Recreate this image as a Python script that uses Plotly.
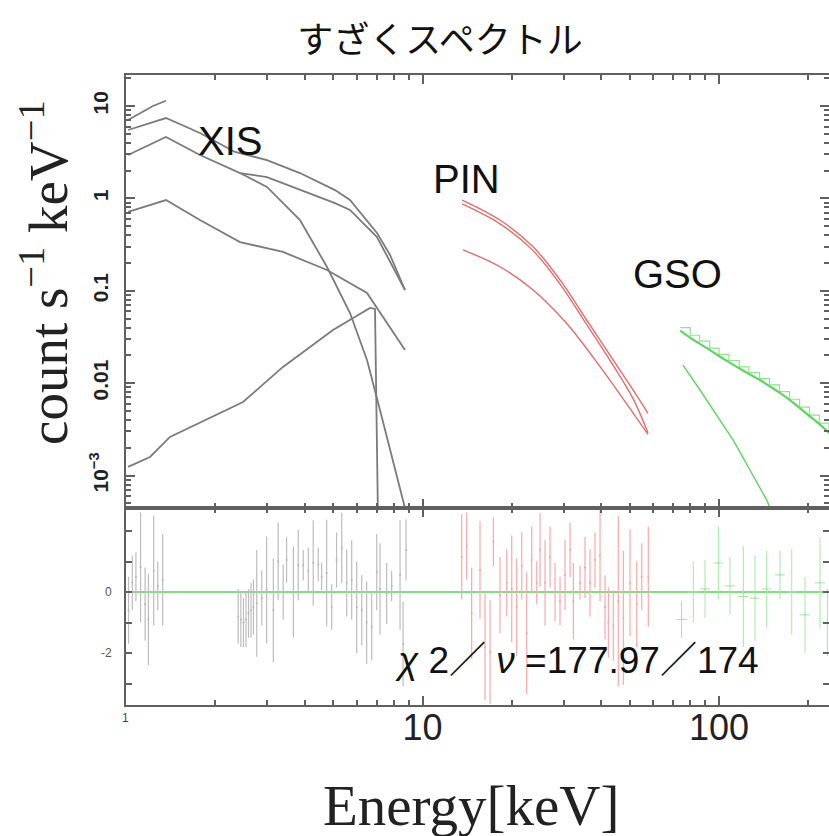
import math
import plotly.graph_objects as go

# ---------------- data ----------------
# Top panel: XIS model/data curves  (energy keV, counts s^-1 keV^-1)
xis_a_e = [1.016, 1.115, 1.233, 1.364]
xis_a_v = [7.05, 8.40, 10.0, 11.4]
xis_b_e = [1.016, 1.364, 1.776, 2.331, 2.988, 3.862, 5.069, 5.695, 7.023, 7.770, 8.730]
xis_b_v = [5.50, 7.41, 5.10, 3.18, 2.60, 1.88, 1.23, 0.96, 0.423, 0.244, 0.102]
xis_c_e = [1.016, 1.364, 1.776, 2.424, 2.988, 3.862, 5.069, 5.695, 7.023, 8.730]
xis_c_v = [2.95, 4.62, 2.95, 1.88, 1.70, 1.23, 0.89, 0.75, 0.382, 0.102]
xis_d_e = [2.424, 2.988, 3.862, 4.764, 5.695, 6.499, 7.189, 7.952, 8.730, 9.3]
xis_d_v = [1.88, 1.33, 0.583, 0.181, 0.0575, 0.0178, 0.00513, 0.00148, 0.000457, 0.0002]
xis_e_e = [1.016, 1.364, 1.776, 2.424, 3.384, 4.764, 6.499, 8.730]
xis_e_v = [0.713, 0.96, 0.583, 0.337, 0.263, 0.168, 0.0947, 0.0229]
xis_f_e = [1.016, 1.205, 1.407, 2.481, 3.384, 4.991, 6.652, 6.915, 7.189]
xis_f_v = [0.00124, 0.00159, 0.00262, 0.00626, 0.0150, 0.0377, 0.0652, 0.0636, 0.00001]

# PIN curves
pin_e = [13.6, 18.25, 23.6, 29.1, 35.8, 44.0, 51.3, 57.6]
pin_a_v = [0.96, 0.583, 0.300, 0.131, 0.0483, 0.0178, 0.00844, 0.00472]
pin_b_v = [0.87, 0.53, 0.272, 0.118, 0.0430, 0.0155, 0.0068, 0.0029]
pin_c_e = [13.7, 18.25, 23.6, 30.6, 39.7, 51.4, 57.6]
pin_c_v = [0.277, 0.182, 0.102, 0.0445, 0.0151, 0.00472, 0.0028]

# GSO curves
gso_e = [74, 80, 86, 93, 100, 108, 117, 126, 137, 148, 160, 173, 187, 202, 218, 235]
gso_data_v = [0.040, 0.033, 0.0285, 0.0240, 0.0205, 0.0176, 0.0150, 0.0130, 0.0112,
              0.0096, 0.0081, 0.0067, 0.0055, 0.0045, 0.0037, 0.0030]
gso_model_v = [0.037, 0.031, 0.0268, 0.0229, 0.0197, 0.0169, 0.0145, 0.0126, 0.0109,
               0.0093, 0.0079, 0.0066, 0.0054, 0.0044, 0.0036, 0.0029]
gso_bg_e = [75.6, 86.3, 111.5, 144.8, 160]
gso_bg_v = [0.0157, 0.00844, 0.00243, 0.000545, 0.00025]

# Bottom panel residuals
xis_r_e = [1.02, 1.05, 1.08, 1.12, 1.16, 1.19, 1.24, 1.28, 1.33,
           2.39, 2.44, 2.49, 2.54, 2.59, 2.64, 2.69, 2.76, 2.87, 2.98, 3.14, 3.26,
           3.39, 3.48, 3.67, 3.81, 3.96, 4.12, 4.28, 4.45, 4.57, 4.75, 4.94, 5.13,
           5.34, 5.55, 5.77, 6.00, 6.24, 6.48, 6.74, 7.01, 7.19, 7.57, 7.87, 8.40,
           8.60, 8.80]
xis_r_v = [-0.6, 0.3, 0.5, 0.8, -0.4, -0.9, 0.7, 0.2, 0.4,
           -0.8, -0.9, -1.0, -0.9, -0.7, -0.6, -0.5, -0.37, -0.2, 0.07, -0.6, 1.0,
           0.0, 1.05, 0.0, 0.88, 0.88, 0.7, 0.95, 0.9, 0.5, 0.62, -0.5, 1.05,
           1.44, 0.3, 0.4, -0.5, -0.6, -1.0, -1.15, 0.65, 0.1, -0.05, 0.2, 0.56,
           -1.7, 1.38]
xis_r_err = [1.1, 0.9, 0.8, 1.8, 1.2, 1.5, 1.8, 0.8, 1.5,
             0.9, 0.9, 0.8, 0.9, 0.8, 0.9, 0.9, 1.75, 0.9, 1.75, 1.7, 1.27,
             0.9, 0.75, 1.5, 1.15, 0.5, 0.75, 1.4, 0.55, 0.45, 1.75, 0.75, 0.9,
             1.15, 1.1, 1.3, 1.5, 1.15, 1.35, 1.1, 1.25, 1.5, 1.0, 0.5, 1.8,
             1.4, 1.0]

pin_r_e = [13.56, 14.09, 14.65, 15.63, 16.25, 16.89, 17.34, 18.25, 19.23, 20.0,
           20.78, 21.61, 22.46, 23.35, 24.28, 24.91, 25.90, 26.92, 27.99, 29.09,
           30.25, 31.45, 32.27, 33.98, 35.33, 36.72, 38.18, 39.70, 41.27, 42.35,
           44.01, 45.75, 47.56, 50.10, 52.77, 54.86, 57.75]
pin_r_v = [1.15, 1.5, -0.7, 0.72, -1.8, -1.97, 1.64, -0.1, 0.3, 0.1,
           -0.5, 0.85, -1.35, 1.05, 0.3, 1.38, 0.3, 1.15, 0.0, -0.3,
           0.56, 1.38, -0.3, 0.3, 0.8, 0.3, 1.05, 1.2, -0.5, -1.0,
           -1.1, -0.3, -0.85, 0.3, -0.4, 0.5, 0.5]
pin_r_err = [1.4, 1.1, 1.5, 1.6, 1.75, 1.7, 0.8, 1.25, 1.1, 1.75,
             1.6, 1.1, 2.0, 1.1, 0.7, 1.2, 1.4, 1.0, 0.95, 0.8,
             1.15, 0.9, 1.25, 0.55, 1.0, 1.1, 0.9, 1.5, 1.05, 1.15,
             1.15, 2.8, 2.2, 1.75, 1.4, 1.1, 1.65]

gso_r_e = [74.8, 81.9, 89.7, 99.5, 108.9, 120.8, 132.3, 144.8, 160.6, 175.9, 195.0, 219.1, 232.0]
gso_r_v = [-0.9, 0.0, 0.1, 0.95, 0.2, -0.15, -0.2, 0.1, 0.56, 0.0, -0.75, 0.3, -1.0]
gso_r_err = [0.6, 1.0, 0.95, 1.2, 0.95, 1.65, 1.4, 1.25, 0.8, 1.4, 1.25, 1.5, 1.1]

# Axis ticks
x_ticks = [1, 10, 100]
x_ticktext = ["1", "10", "100"]
y_top_ticks = [1e-3, 0.01, 0.1, 1, 10]
y_top_ticktext = ["10<sup>−3</sup>", "0.01", "0.1", "1", "10"]
y_bot_ticks = [-2, 0]
y_bot_ticktext = ["-2", "0"]
y_bot_minor = [-3, -1, 1, 2]

# ---------------- figure ----------------
W, H = 829, 836
def px(x):
    return x / W
def py(y):
    return 1 - y / H

XIS_COL = "#7b7b7b"
PIN_COL = "#e86a6a"
GSO_COL = "#5cd65c"

fig = go.Figure()

for e, v in [(xis_a_e, xis_a_v), (xis_b_e, xis_b_v), (xis_c_e, xis_c_v),
             (xis_d_e, xis_d_v), (xis_e_e, xis_e_v), (xis_f_e, xis_f_v)]:
    fig.add_trace(go.Scatter(x=e, y=v, mode="lines", line=dict(color=XIS_COL, width=1.8),
                             xaxis="x", yaxis="y", showlegend=False))

for e, v in [(pin_e, pin_a_v), (pin_e, pin_b_v), (pin_c_e, pin_c_v)]:
    fig.add_trace(go.Scatter(x=e, y=v, mode="lines", line=dict(color=PIN_COL, width=1.4),
                             line_shape="spline", xaxis="x", yaxis="y", showlegend=False))

fig.add_trace(go.Scatter(x=gso_e, y=gso_data_v, mode="lines", line=dict(color="#8fe48f", width=1.2),
                         line_shape="hv", xaxis="x", yaxis="y", showlegend=False))
fig.add_trace(go.Scatter(x=gso_e, y=gso_model_v, mode="lines", line=dict(color=GSO_COL, width=2.2),
                         line_shape="spline", xaxis="x", yaxis="y", showlegend=False))
fig.add_trace(go.Scatter(x=gso_bg_e, y=gso_bg_v, mode="lines", line=dict(color=GSO_COL, width=1.4),
                         xaxis="x", yaxis="y", showlegend=False))

# residuals
fig.add_trace(go.Scatter(x=[1, 240], y=[0, 0], mode="lines", line=dict(color="#7fe07f", width=2),
                         xaxis="x2", yaxis="y2", showlegend=False))
fig.add_trace(go.Scatter(x=xis_r_e, y=xis_r_v, mode="markers",
                         marker=dict(color="#b5b5b5", size=2),
                         error_y=dict(type="data", array=xis_r_err, color="#bdbdbd", thickness=1.2, width=0),
                         xaxis="x2", yaxis="y2", showlegend=False))
fig.add_trace(go.Scatter(x=pin_r_e, y=pin_r_v, mode="markers",
                         marker=dict(color="#f5a3a3", size=2),
                         error_y=dict(type="data", array=pin_r_err, color="#f6aaaa", thickness=1.2, width=0),
                         xaxis="x2", yaxis="y2", showlegend=False))
fig.add_trace(go.Scatter(x=gso_r_e, y=gso_r_v, mode="markers",
                         marker=dict(color="#9be59b", size=2),
                         error_y=dict(type="data", array=gso_r_err, color="#a3e8a3", thickness=1, width=0),
                         error_x=dict(type="percent", value=4, color="#a3e8a3", thickness=1, width=0),
                         xaxis="x2", yaxis="y2", showlegend=False))

def minor_log(lo, hi):
    out = []
    for k in range(lo, hi + 1):
        for m in range(2, 10):
            out.append(m * 10 ** k)
    return out

LINE = "#606060"
x_range = [0, 2.371]
xdom = [126 / W, 1.0]
top_dom = [py(508), py(75)]
bot_dom = [py(705), py(508)]

common_x = dict(type="log", range=x_range, domain=xdom, showgrid=False, zeroline=False,
                showline=True, linecolor=LINE, linewidth=2, mirror="allticks",
                ticks="inside", ticklen=9, tickwidth=1.5, tickcolor=LINE,
                minor=dict(tickvals=minor_log(0, 2), ticklen=5, tickcolor=LINE, ticks="inside"),
                automargin=False)

fig.update_layout(
    width=W, height=H, margin=dict(l=0, r=0, t=0, b=0),
    paper_bgcolor="white", plot_bgcolor="white", showlegend=False,
    xaxis=dict(common_x, anchor="y", showticklabels=False, tickvals=x_ticks),
    yaxis=dict(type="log", range=[-3.351, 1.3355], domain=top_dom, anchor="x",
               showgrid=False, zeroline=False, showline=True, linecolor=LINE, linewidth=2,
               mirror="allticks", ticks="inside", ticklen=9, tickwidth=1.5, tickcolor=LINE,
               tickvals=y_top_ticks, ticktext=y_top_ticktext, tickangle=-90,
               tickfont=dict(family="Liberation Sans, Arial", size=21, color="#222", weight="bold"),
               ticklabelstandoff=8,
               minor=dict(tickvals=minor_log(-4, 1), ticklen=5, tickcolor=LINE, ticks="inside"),
               automargin=False),
    xaxis2=dict(common_x, anchor="y2", tickvals=x_ticks[1:], ticktext=x_ticktext[1:],
                tickfont=dict(family="Liberation Sans, Arial", size=36, color="#222"),
                ticklabelstandoff=-10),
    yaxis2=dict(type="linear", range=[-3.705, 2.754], domain=bot_dom, anchor="x2",
                showgrid=False, zeroline=False, showline=True, linecolor=LINE, linewidth=2,
                mirror="allticks", ticks="inside", ticklen=6, tickwidth=1.5, tickcolor=LINE,
                tickvals=y_bot_ticks, ticktext=y_bot_ticktext,
                minor=dict(tickvals=y_bot_minor, ticklen=6, tickcolor=LINE, ticks="inside"),
                tickfont=dict(family="Liberation Sans, Arial", size=12, color="#555"),
                ticklabelstandoff=10, automargin=False),
    title=dict(text="すざくスペクトル", x=px(440), xref="container", xanchor="center",
               y=py(40), yref="container", yanchor="middle",
               font=dict(family="Noto Sans CJK JP", size=36, color="#111")),
)

ann_font = dict(family="Liberation Sans, Arial", size=40, color="#111")
annotations = [
    dict(text="XIS", x=px(230), y=py(141), font=ann_font),
    dict(text="PIN", x=px(466), y=py(179), font=ann_font),
    dict(text="GSO", x=px(677), y=py(274), font=ann_font),
    dict(text="<i>χ</i> 2／ <i>ν</i> =177.97／174", x=px(577), y=py(660),
         font=dict(family="Liberation Sans, Noto Sans CJK JP", size=37, color="#111")),
    dict(text="count s<sup>−1</sup> keV<sup>−1</sup>", x=px(45), y=py(273), textangle=-90,
         font=dict(family="Liberation Serif", size=55, color="#222")),
    dict(text="Energy[keV]", x=px(471), y=py(805),
         font=dict(family="Liberation Serif", size=57, color="#222")),
    dict(text=x_ticktext[0], x=math.log10(x_ticks[0]), xref="x2", y=py(718),
         font=dict(family="Liberation Sans, Arial", size=12, color="#444")),
]
for a in annotations:
    a.setdefault("xref", "paper")
    a.setdefault("yref", "paper")
    a.update(showarrow=False, xanchor="center", yanchor="middle")
fig.update_layout(annotations=annotations)

fig.write_html("out.html")
